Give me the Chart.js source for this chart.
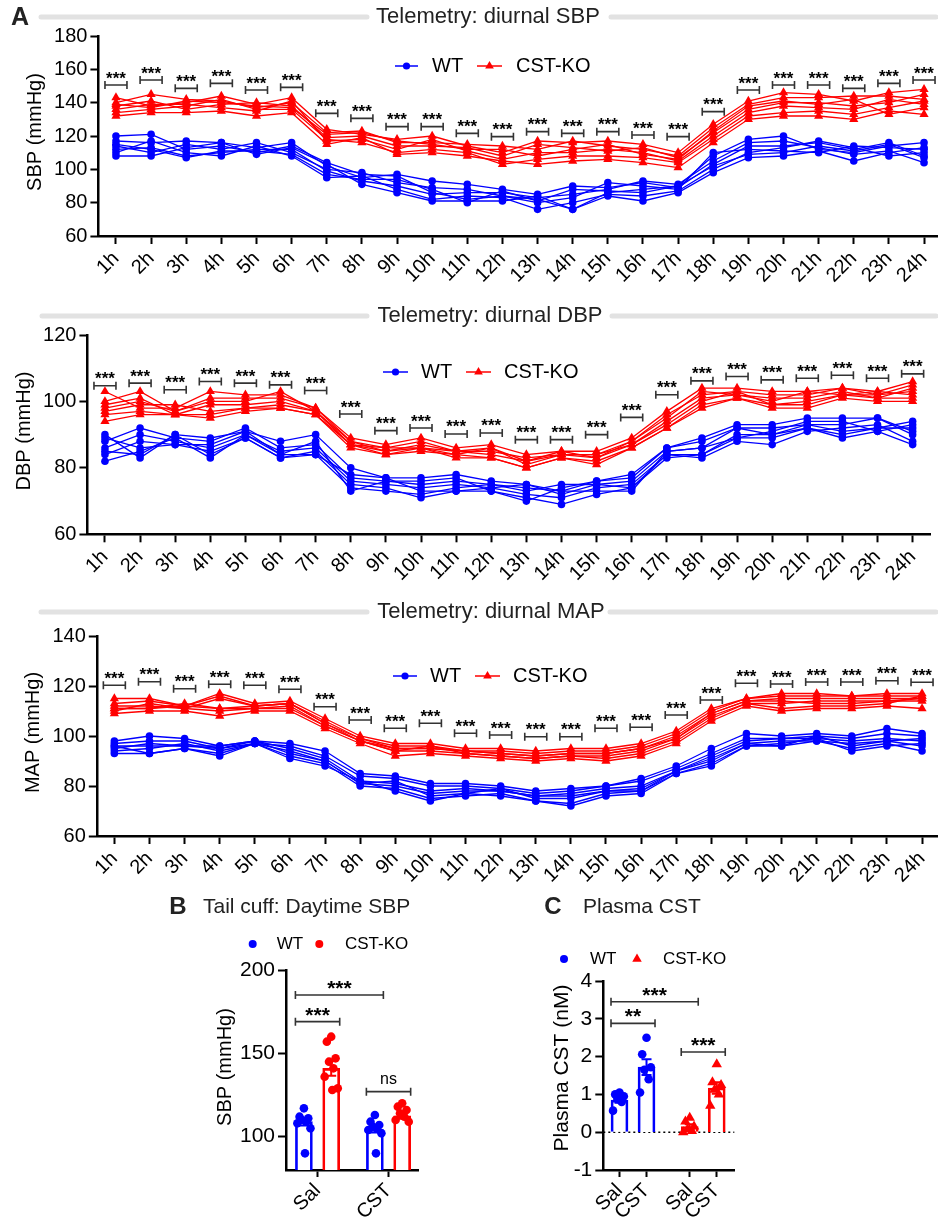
<!DOCTYPE html>
<html><head><meta charset="utf-8"><title>Telemetry and plasma CST</title>
<script src="https://cdn.jsdelivr.net/npm/chart.js@4.4.1/dist/chart.umd.min.js"></script>
<style>
html,body{margin:0;padding:0;background:#fff;overflow:hidden;}
body{position:relative;width:938px;height:1222px;}
canvas{position:absolute;}
</style></head><body>
<canvas id="cSBP" width="950" height="290" style="left:0;top:0"></canvas>
<canvas id="cDBP" width="950" height="290" style="left:0;top:300px"></canvas>
<canvas id="cMAP" width="950" height="290" style="left:0;top:600px"></canvas>
<canvas id="cB" width="290" height="342" style="left:150px;top:880px"></canvas>
<canvas id="cC" width="220" height="342" style="left:540px;top:880px"></canvas>
<script>
// ---------------- DATA ----------------
const hours = ['1h','2h','3h','4h','5h','6h','7h','8h','9h','10h','11h','12h','13h','14h','15h','16h','17h','18h','19h','20h','21h','22h','23h','24h'];

const sbpWT = [
  [120,121,112,114,110,114,104,97,96,86,82,84,82,76,86,88,90,108,118,120,112,110,114,116],
  [117,116,117,116,113,116,102,95,97,93,91,88,85,90,89,92,89,103,114,114,116,112,116,108],
  [114,110,115,112,116,110,100,98,92,89,88,84,80,83,92,90,88,110,112,111,110,114,113,112],
  [112,113,108,110,112,112,99,93,90,85,86,86,83,85,88,93,91,105,116,117,113,109,111,104],
  [110,117,110,108,114,108,95,96,88,82,84,83,76,80,85,84,87,100,110,113,117,113,108,110],
  [108,108,113,116,109,113,103,91,86,81,81,81,84,76,84,81,86,98,107,108,111,105,110,113],
  [115,112,107,111,111,109,97,94,94,88,80,87,81,88,87,86,90,102,109,110,114,111,115,107]
];
const sbpKO = [
  [143,138,140,144,139,143,124,121,118,120,114,110,117,116,117,115,110,127,141,146,145,141,146,148],
  [140,145,142,141,137,140,122,123,116,116,115,114,112,117,114,112,108,125,139,143,143,144,144,142],
  [138,141,136,139,140,138,119,120,114,114,113,108,115,113,111,113,107,122,136,140,140,138,140,145],
  [136,139,139,137,135,141,117,118,112,118,111,106,110,110,112,110,105,120,134,138,137,136,142,139],
  [134,136,138,142,136,136,118,116,110,112,110,103,106,108,108,107,104,118,132,134,135,133,137,141],
  [132,134,134,135,132,134,115,119,109,110,108,105,103,105,106,104,101,116,130,132,132,130,135,133],
  [139,137,141,140,138,137,121,122,117,115,112,112,108,112,115,109,106,123,138,141,139,142,133,137]
];
const sbpStars = [150.6,153.6,148.6,151.6,147.6,149.2,133.6,130.6,125.6,125.6,121.6,119.6,122.6,121.6,122.6,120.6,119.6,134.6,147.6,150.6,150.6,148.6,151.6,153.6];

const dbpWT = [
  [90,83,90,89,91,88,90,80,77,77,78,76,75,73,76,78,86,89,93,93,95,95,95,90],
  [88,92,89,88,92,86,87,77,76,75,76,75,73,75,75,76,85,86,92,92,93,91,92,94],
  [86,90,88,86,90,85,86,76,75,74,75,74,72,71,74,75,84,84,90,90,92,89,91,93],
  [84,88,87,85,89,83,85,75,74,71,73,73,71,69,72,74,84,83,88,87,91,92,93,88],
  [82,85,89,83,90,84,84,74,73,72,74,75,74,73,73,73,85,86,89,91,94,94,91,87],
  [89,86,87,87,91,84,88,73,76,76,77,73,70,74,76,77,86,88,92,90,93,93,95,91],
  [85,84,90,84,89,83,84,78,77,73,73,74,75,72,75,74,83,84,89,89,92,90,92,92]
];
const dbpKO = [
  [103,98,98,103,102,102,98,89,87,89,86,87,84,85,85,89,97,104,104,103,103,104,103,106],
  [100,103,97,101,101,101,98,88,86,88,85,86,82,84,84,88,96,102,103,102,102,104,102,105],
  [99,101,96,99,99,100,97,87,86,86,84,86,81,84,83,87,94,101,102,101,101,103,101,104],
  [97,99,99,97,98,99,97,88,85,86,85,85,83,84,84,87,93,100,103,99,99,102,103,102],
  [96,97,96,96,98,98,96,87,84,85,84,83,80,83,82,86,92,99,101,98,98,101,100,100],
  [94,96,96,95,97,98,96,86,84,86,83,83,80,83,81,86,92,98,101,99,100,102,101,101],
  [98,100,97,100,100,103,97,87,85,87,85,84,82,85,83,88,95,103,102,100,103,102,102,103]
];
const dbpStars = [104.7,105.5,103.5,106,105.5,105,103.3,96.2,91.2,92,90.2,90.5,88.5,88.5,90,95.2,102,106.2,107.5,106.5,107,107.9,107,108.3];

const mapWT = [
  [98,100,99,96,98,97,94,85,84,81,81,80,78,79,80,83,88,95,101,100,101,100,103,101],
  [97,98,98,95,97,96,92,84,83,80,80,79,77,78,80,82,87,93,99,99,100,99,101,100],
  [95,97,96,96,98,95,91,82,81,78,79,78,76,77,79,80,86,92,98,99,99,98,99,98],
  [94,95,97,94,97,94,90,81,80,77,78,78,76,76,78,79,86,90,97,98,98,97,98,96],
  [93,93,95,93,97,92,89,80,79,75,76,77,74,73,77,78,85,89,96,96,98,95,97,94],
  [96,93,95,92,97,91,88,82,78,74,77,76,74,72,76,77,85,88,96,97,99,94,96,97],
  [96,96,96,95,98,93,90,81,82,76,77,79,75,75,78,78,86,91,97,96,100,96,98,99]
];
const mapKO = [
  [115,115,112,117,113,114,107,100,97,97,95,95,94,95,95,97,102,111,115,117,117,116,117,117],
  [113,114,112,116,112,113,106,99,96,96,94,94,93,94,94,96,101,110,115,116,116,116,116,116],
  [112,112,111,115,112,113,105,99,95,95,94,93,92,93,93,95,100,109,114,115,115,115,115,115],
  [111,111,112,111,111,112,104,98,94,96,93,92,91,92,92,94,99,108,113,113,114,114,114,114],
  [110,113,111,110,111,111,104,98,94,94,93,92,91,92,91,93,98,107,113,111,112,112,113,116],
  [109,110,110,108,110,110,103,97,92,93,92,91,90,91,90,92,97,106,112,110,111,111,112,111],
  [111,111,113,111,112,113,105,98,95,95,94,93,92,93,93,95,99,109,114,114,113,113,114,115]
];
const mapStars = [120.3,121.7,118.9,120.7,120.3,118.7,111.7,106.4,103.1,105.1,101.1,100.4,99.7,99.7,103.1,103.5,108.4,114.4,121.1,120.8,121.6,121.6,122.1,121.5];

// Panel B: tail cuff daytime SBP
const bGroupLabels = ['Sal','CST'];
const bYTicks = [100,150,200];
const bWtMean = [109, 104.5];
const bWtSem  = [2.3, 2.0];
const bKoMean = [141, 112.5];
const bKoSem  = [4.5, 1.8];
const bWtDots = [[117,112,111,110,109,108,105,90],[113,109,107,106,105,104,102,90]];
const bKoDots = [[160,157,147,145,141,136,129,128],[120,118,116,114,112,110,109]];

// Panel C: plasma CST
const cTickLabels = ['Sal','CST','Sal','CST'];
const cYTicks = [-1,0,1,2,3,4];
const cWtMean = [0.85, 1.72];
const cWtSem  = [0.07, 0.21];
const cKoMean = [0.15, 1.17];
const cKoSem  = [0.06, 0.15];
const cWtDots = [[1.05,1.0,0.95,0.88,0.8,0.57],[2.5,2.06,1.72,1.65,1.4,1.05]];
const cKoDots = [[0.38,0.28,0.15,0.08,0.03,0.0],[1.8,1.32,1.25,1.12,1.0,0.7]];

// ---------------- STYLE / HELPERS ----------------
const FONT = "'Liberation Sans', Arial, Helvetica, sans-serif";
Chart.defaults.font.family = FONT;
Chart.defaults.color = '#000';
const BLUE = '#0000ff', RED = '#ff0000';

function drawPanelTitle(ctx, text, cx, y, bars) {
  ctx.save();
  ctx.strokeStyle = '#e2e2e2'; ctx.lineWidth = 5; ctx.lineCap = 'round';
  ctx.beginPath();
  bars.forEach(b => { ctx.moveTo(b[0], y); ctx.lineTo(b[1], y); });
  ctx.stroke();
  ctx.font = '22px ' + FONT; ctx.fillStyle = '#222';
  ctx.textAlign = 'center'; ctx.textBaseline = 'middle';
  ctx.fillText(text, cx, y);
  ctx.restore();
}
function drawText(ctx, text, x, y, font, align, color) {
  ctx.save();
  ctx.font = font; ctx.fillStyle = color || '#000';
  ctx.textAlign = align || 'left'; ctx.textBaseline = 'middle';
  ctx.fillText(text, x, y);
  ctx.restore();
}
function drawYTitle(ctx, text, x, y, size) {
  ctx.save();
  ctx.translate(x, y); ctx.rotate(-Math.PI / 2);
  ctx.font = size + 'px ' + FONT; ctx.fillStyle = '#000';
  ctx.textAlign = 'center'; ctx.textBaseline = 'middle';
  ctx.fillText(text, 0, 0);
  ctx.restore();
}
function marker(ctx, style, r, x, y, color) {
  ctx.save();
  ctx.fillStyle = color; ctx.strokeStyle = color;
  Chart.helpers.drawPoint(ctx, {pointStyle: style, radius: r, rotation: 0, borderWidth: 0}, x, y);
  ctx.restore();
}
function legendLine(ctx, y, spec, color, style, r, label) {
  ctx.save();
  ctx.strokeStyle = color; ctx.lineWidth = 1.5;
  ctx.beginPath(); ctx.moveTo(spec[0], y); ctx.lineTo(spec[1], y); ctx.stroke();
  ctx.restore();
  marker(ctx, style, r, (spec[0] + spec[1]) / 2, y, color);
  drawText(ctx, label, spec[2], y, '20px ' + FONT, 'left', '#000');
}
function bracket(ctx, x1, x2, y, label, font, gap) {
  ctx.save();
  ctx.strokeStyle = '#333'; ctx.lineWidth = 1.6;
  ctx.beginPath();
  ctx.moveTo(x1, y - 4); ctx.lineTo(x1, y + 4);
  ctx.moveTo(x1, y); ctx.lineTo(x2, y);
  ctx.moveTo(x2, y - 4); ctx.lineTo(x2, y + 4);
  ctx.stroke();
  ctx.font = font; ctx.fillStyle = '#000';
  ctx.textAlign = 'center'; ctx.textBaseline = 'alphabetic';
  ctx.fillText(label, (x1 + x2) / 2, y - gap);
  ctx.restore();
}

const axisGrid = {drawOnChartArea: false, drawTicks: true, tickLength: 8, tickWidth: 2, tickColor: '#000', offset: false};
const axisBorder = {display: true, color: '#000', width: 2.5};

// ---------------- LINE CHARTS ----------------
function makeLineChart(id, wt, ko, stars, yMin, yMax, L) {
  const ds = [];
  wt.forEach(a => ds.push({data: a, borderColor: BLUE, backgroundColor: BLUE, borderWidth: 1.3,
    pointStyle: 'circle', pointRadius: 3.8, pointBorderWidth: 0, tension: 0, order: 2}));
  ko.forEach(a => ds.push({data: a, borderColor: RED, backgroundColor: RED, borderWidth: 1.3,
    pointStyle: 'triangle', pointRadius: 5.3, pointBorderWidth: 0, tension: 0, order: 1}));
  const decor = {
    id: 'decor',
    afterDraw(chart) {
      const ctx = chart.ctx, xs = chart.scales.x, ys = chart.scales.y;
      drawPanelTitle(ctx, L.title, L.titleX, L.titleY, L.bars);
      if (L.letter) drawText(ctx, L.letter, L.letterX, L.letterY, 'bold 25px ' + FONT, 'center', '#222');
      drawYTitle(ctx, L.yTitle, L.yTitleX, L.yTitleY, 20);
      legendLine(ctx, L.legY, L.wt, BLUE, 'circle', 3.6, 'WT');
      legendLine(ctx, L.legY, L.ko, RED, 'triangle', 5, 'CST-KO');
      stars.forEach((v, i) => {
        const cx = xs.getPixelForValue(i);
        bracket(ctx, cx - 11, cx + 11, ys.getPixelForValue(v), '***', 'bold 17px ' + FONT, 1.5);
      });
    }
  };
  return new Chart(document.getElementById(id), {
    type: 'line',
    data: {labels: hours, datasets: ds},
    options: {
      responsive: false, animation: false, events: [],
      layout: {padding: {left: 0, top: L.padTop, right: L.padRight, bottom: 0}},
      plugins: {legend: {display: false}, tooltip: {enabled: false}},
      scales: {
        x: {offset: true, grid: axisGrid, border: axisBorder,
            ticks: {autoSkip: false, minRotation: 45, maxRotation: 45, padding: 3, font: {size: 20}, color: '#000'},
            afterFit: s => { s.height = L.xh; }},
        y: {min: yMin, max: yMax, grid: axisGrid, border: axisBorder,
            ticks: {stepSize: 20, padding: 3, font: {size: 20}, color: '#000'},
            afterFit: s => { s.width = L.yw; }}
      }
    },
    plugins: [decor]
  });
}

makeLineChart('cSBP', sbpWT, sbpKO, sbpStars, 60, 180, {
  padTop: 36, padRight: 8.4, yw: 98.4, xh: 54,
  title: 'Telemetry: diurnal SBP', titleX: 488, titleY: 17, bars: [[41, 367], [611, 936]],
  letter: 'A', letterX: 20, letterY: 18,
  yTitle: 'SBP (mmHg)', yTitleX: 35, yTitleY: 132,
  legY: 66, wt: [395, 418, 432], ko: [477, 502, 516]
});
makeLineChart('cDBP', dbpWT, dbpKO, dbpStars, 60, 120, {
  padTop: 35, padRight: 19.8, yw: 87.4, xh: 55.7,
  title: 'Telemetry: diurnal DBP', titleX: 490, titleY: 16, bars: [[42, 367], [612, 936]],
  yTitle: 'DBP (mmHg)', yTitleX: 24, yTitleY: 131,
  legY: 72, wt: [383, 408, 421], ko: [466, 491, 504]
});
makeLineChart('cMAP', mapWT, mapKO, mapStars, 60, 140, {
  padTop: 36, padRight: 10.4, yw: 96.8, xh: 54,
  title: 'Telemetry: diurnal MAP', titleX: 491, titleY: 12, bars: [[41, 367], [610, 936]],
  yTitle: 'MAP (mmHg)', yTitleX: 33, yTitleY: 132.5,
  legY: 76, wt: [393, 417, 430], ko: [475, 500, 513]
});

// ---------------- BAR + DOT CHARTS ----------------
const SLOTS = [0, 1, 2.6, 3.6];        // x slots of the four bars
const BAR_W = 17;
function jit(i) { return [0, -1, 1, -0.5, 0.5, -1.5, 1.5, 0.25][i % 8] * 0.16; }

function makeBarChart(id, P) {
  const ds = [];
  const semByDataset = {};
  P.groups.forEach(g => {
    semByDataset[ds.length] = {mean: g.mean, sem: g.sem, color: g.color};
    ds.push({type: 'bar', data: g.mean.map((m, k) => ({x: SLOTS[g.slots[k]], y: m})),
      backgroundColor: '#fff', borderColor: g.color, borderWidth: 2.7, barThickness: BAR_W,
      grouped: false, borderSkipped: 'start', order: 5});
  });
  P.groups.forEach(g => {
    g.dots.forEach((vals, k) => {
      ds.push({type: 'scatter', data: vals.map((v, i) => ({x: SLOTS[g.slots[k]] + jit(i), y: v})),
        backgroundColor: g.color, borderColor: g.color, pointStyle: g.style, pointRadius: g.r,
        pointBorderWidth: 0, order: 1});
    });
  });
  const decor = {
    id: 'decor',
    beforeDatasetsDraw(chart) {
      if (!P.zeroLine) return;
      const ctx = chart.ctx, ys = chart.scales.y, a = chart.chartArea;
      const y = ys.getPixelForValue(0);
      ctx.save(); ctx.strokeStyle = '#000'; ctx.lineWidth = 1.6; ctx.setLineDash([2, 3]);
      ctx.beginPath(); ctx.moveTo(a.left, y); ctx.lineTo(a.right, y); ctx.stroke(); ctx.restore();
    },
    afterDatasetDraw(chart, args) {
      const e = semByDataset[args.index];
      if (!e) return;
      const ctx = chart.ctx, ys = chart.scales.y;
      ctx.save(); ctx.strokeStyle = e.color; ctx.lineWidth = 2;
      args.meta.data.forEach((el, k) => {
        const yt = ys.getPixelForValue(e.mean[k] + e.sem[k]);
        const yb = ys.getPixelForValue(e.mean[k] - e.sem[k]);
        ctx.beginPath();
        ctx.moveTo(el.x, yt); ctx.lineTo(el.x, yb);
        ctx.moveTo(el.x - 5, yt); ctx.lineTo(el.x + 5, yt);
        ctx.moveTo(el.x - 5, yb); ctx.lineTo(el.x + 5, yb);
        ctx.stroke();
      });
      ctx.restore();
    },
    afterDraw(chart) {
      const ctx = chart.ctx, xs = chart.scales.x, ys = chart.scales.y;
      drawText(ctx, P.letter, P.letterX, P.titleY, 'bold 24px ' + FONT, 'center', '#222');
      drawText(ctx, P.title, P.titleX, P.titleY, '21px ' + FONT, 'left', '#222');
      drawYTitle(ctx, P.yTitle, P.yTitleX, P.yTitleY, P.yTitleSize);
      marker(ctx, 'circle', 4, P.leg[0], P.legY, BLUE);
      drawText(ctx, 'WT', P.leg[1], P.legY, '17px ' + FONT, 'left', '#000');
      marker(ctx, P.koLegStyle, P.koLegStyle === 'triangle' ? 5.5 : 4, P.leg[2], P.legY, RED);
      drawText(ctx, 'CST-KO', P.leg[3], P.legY, '17px ' + FONT, 'left', '#000');
      P.brackets.forEach(b => {
        const x1 = xs.getPixelForValue(SLOTS[b.a]) - BAR_W / 2;
        const x2 = xs.getPixelForValue(SLOTS[b.b]) + BAR_W / 2;
        const isNs = b.t === 'ns';
        bracket(ctx, x1, x2, ys.getPixelForValue(b.y), b.t,
          isNs ? '16px ' + FONT : 'bold 21px ' + FONT, isNs ? 8 : 0);
      });
    }
  };
  return new Chart(document.getElementById(id), {
    type: 'bar',
    data: {datasets: ds},
    options: {
      responsive: false, animation: false, events: [],
      layout: {padding: {left: 0, top: P.padTop, right: P.padRight, bottom: 0}},
      plugins: {legend: {display: false}, tooltip: {enabled: false}},
      scales: {
        x: {type: 'linear', min: P.xMin, max: P.xMax, offset: false,
            grid: Object.assign({}, axisGrid, {tickLength: 7}), border: axisBorder,
            ticks: {autoSkip: false, minRotation: 45, maxRotation: 45, padding: 2, font: {size: 20}, color: '#000',
                    callback: (v, i) => P.xLabels[i]},
            afterBuildTicks: s => { s.ticks = P.xTickSlots.map(v => ({value: v})); },
            afterFit: s => { s.height = 52; }},
        y: {min: P.yMin, max: P.yMax, grid: axisGrid, border: axisBorder,
            ticks: {padding: 3, font: {size: 21}, color: '#000', stepSize: 1},
            afterBuildTicks: s => { s.ticks = P.yTicks.map(v => ({value: v})); },
            afterFit: s => { s.width = P.yw; }}
      }
    },
    plugins: [decor]
  });
}

makeBarChart('cB', {
  groups: [
    {mean: bWtMean, sem: bWtSem, dots: bWtDots, color: BLUE, slots: [0, 2], style: 'circle', r: 4.3},
    {mean: bKoMean, sem: bKoSem, dots: bKoDots, color: RED, slots: [1, 3], style: 'circle', r: 4.3}
  ],
  xLabels: bGroupLabels, xTickSlots: [0.5, 3.1], xMin: -0.656, xMax: 4.18,
  yMin: 80, yMax: 200, yTicks: bYTicks,
  padTop: 90, padRight: 22, yw: 136,
  letter: 'B', letterX: 28, title: 'Tail cuff: Daytime SBP', titleX: 53, titleY: 27,
  yTitle: 'SBP (mmHg)', yTitleX: 75, yTitleY: 187, yTitleSize: 20,
  legY: 64, leg: [102.7, 126.7, 169.3, 195], koLegStyle: 'circle',
  brackets: [{a: 0, b: 2, y: 185, t: '***'}, {a: 0, b: 1, y: 169, t: '***'}, {a: 2, b: 3, y: 127, t: 'ns'}]
});

makeBarChart('cC', {
  groups: [
    {mean: cWtMean, sem: cWtSem, dots: cWtDots, color: BLUE, slots: [0, 1], style: 'circle', r: 4.3},
    {mean: cKoMean, sem: cKoSem, dots: cKoDots, color: RED, slots: [2, 3], style: 'triangle', r: 6}
  ],
  xLabels: cTickLabels, xTickSlots: SLOTS, xMin: -0.6, xMax: 4.25,
  yMin: -1, yMax: 4, yTicks: cYTicks,
  padTop: 101, padRight: 25.7, yw: 63.3, zeroLine: true,
  letter: 'C', letterX: 13, title: 'Plasma CST', titleX: 43, titleY: 27,
  yTitle: 'Plasma CST (nM)', yTitleX: 22, yTitleY: 188, yTitleSize: 21,
  legY: 79, leg: [24, 50, 97, 123], koLegStyle: 'triangle',
  brackets: [{a: 0, b: 2, y: 3.45, t: '***'}, {a: 0, b: 1, y: 2.88, t: '**'}, {a: 2, b: 3, y: 2.12, t: '***'}]
});
</script>
</body></html>
